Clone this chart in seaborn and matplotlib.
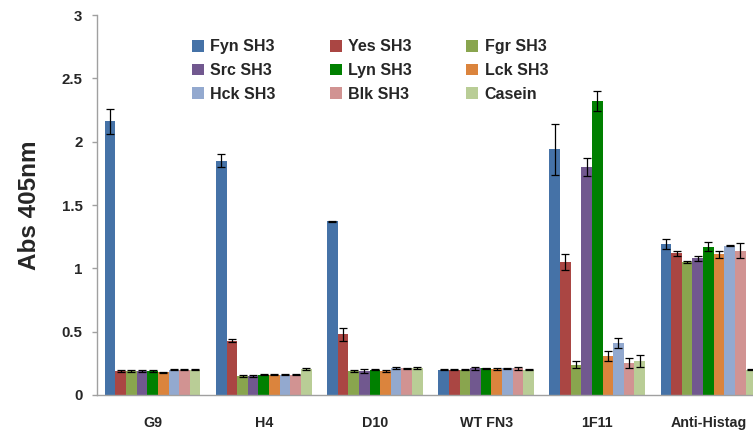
import numpy as np
import pandas as pd
import matplotlib
matplotlib.use("Agg")
import matplotlib.pyplot as plt
import seaborn as sns

groups = ["G9", "H4", "D10", "WT FN3", "1F11", "Anti-Histag"]
series = ["Fyn SH3", "Yes SH3", "Fgr SH3", "Src SH3", "Lyn SH3",
          "Lck SH3", "Hck SH3", "Blk SH3", "Casein"]
colors = ["#4572A7", "#AA4643", "#89A54E", "#71588F", "#008000",
          "#DB843D", "#93A9CF", "#D19392", "#B9CD96"]

# values per series across groups (G9, H4, D10, WT FN3, 1F11, Anti-Histag)
fyn    = [2.16, 1.85, 1.37, 0.20, 1.94, 1.19]
yes    = [0.19, 0.43, 0.48, 0.20, 1.05, 1.12]
fgr    = [0.19, 0.15, 0.19, 0.20, 0.24, 1.05]
src    = [0.19, 0.15, 0.19, 0.21, 1.80, 1.08]
lyn    = [0.19, 0.16, 0.20, 0.21, 2.32, 1.17]
lck    = [0.18, 0.16, 0.19, 0.205, 0.31, 1.11]
hck    = [0.20, 0.16, 0.215, 0.21, 0.41, 1.18]
blk    = [0.20, 0.16, 0.21, 0.21, 0.25, 1.14]
casein = [0.20, 0.205, 0.215, 0.20, 0.27, 0.20]

fyn_err    = [0.10, 0.05, 0.005, 0.005, 0.20, 0.04]
yes_err    = [0.005, 0.01, 0.05, 0.005, 0.065, 0.02]
fgr_err    = [0.01, 0.005, 0.01, 0.005, 0.03, 0.01]
src_err    = [0.005, 0.005, 0.015, 0.01, 0.07, 0.02]
lyn_err    = [0.005, 0.005, 0.005, 0.005, 0.08, 0.035]
lck_err    = [0.005, 0.005, 0.005, 0.005, 0.04, 0.03]
hck_err    = [0.005, 0.005, 0.01, 0.005, 0.04, 0.005]
blk_err    = [0.005, 0.005, 0.005, 0.01, 0.04, 0.06]
casein_err = [0.005, 0.005, 0.01, 0.005, 0.045, 0.005]

vals = [fyn, yes, fgr, src, lyn, lck, hck, blk, casein]
errs = [fyn_err, yes_err, fgr_err, src_err, lyn_err, lck_err, hck_err, blk_err, casein_err]

rows = []
for s, v, e in zip(series, vals, errs):
    for g, vv, ee in zip(groups, v, e):
        rows.append({"group": g, "series": s, "value": vv, "err": ee})
df = pd.DataFrame(rows)

sns.set_style("white")
plt.rcParams["font.family"] = ["Liberation Sans", "DejaVu Sans"]
plt.rcParams["font.weight"] = "bold"

fig = plt.figure(figsize=(7.53, 4.33), dpi=100)
ax = fig.add_axes([97/753, (433-395)/433, 667/753, 380/433])

sns.barplot(data=df, x="group", y="value", hue="series", order=groups,
            hue_order=series, palette=colors, width=0.86, errorbar=None,
            saturation=1, ax=ax, legend=True, edgecolor="none")

for cont, e in zip(ax.containers, errs):
    xs = [b.get_x() + b.get_width() / 2 for b in cont]
    ys = [b.get_height() for b in cont]
    ax.errorbar(xs, ys, yerr=e, fmt="none", ecolor="black", elinewidth=0.9,
                capsize=3, capthick=0.9)

ax.set_xlim(-0.5, 5.5)
ax.set_ylim(0, 3)
ax.set_yticks([0, 0.5, 1, 1.5, 2, 2.5, 3])
ax.set_yticklabels(["0", "0.5", "1", "1.5", "2", "2.5", "3"])
ax.set_xlabel("")
ax.set_ylabel("Abs 405nm", fontsize=17.5, fontweight="bold", labelpad=15)
for lbl in ax.get_yticklabels():
    lbl.set_fontsize(10.8)
    lbl.set_fontweight("bold")
for lbl in ax.get_xticklabels():
    lbl.set_fontsize(10.3)
    lbl.set_fontweight("bold")

sns.despine(ax=ax)
for sp in ["left", "bottom"]:
    ax.spines[sp].set_color("#A0A0A0")
    ax.spines[sp].set_linewidth(1.0)
ax.tick_params(axis="y", direction="out", length=3.5, color="#A0A0A0", width=1, pad=7, left=True)
ax.tick_params(axis="x", length=0, pad=15)

handles, labels = ax.get_legend_handles_labels()
ax.get_legend().remove()
order = [0, 3, 6, 1, 4, 7, 2, 5, 8]
leg = ax.legend([handles[i] for i in order], [labels[i] for i in order],
                ncol=3, loc="upper left", bbox_to_anchor=(0.1205, 0.974),
                frameon=False, prop={"size": 11.5, "weight": "bold"},
                handlelength=0.75, handleheight=0.75, handletextpad=0.4,
                columnspacing=3.4, labelspacing=0.55)

fig.savefig("out.png", dpi=100)
